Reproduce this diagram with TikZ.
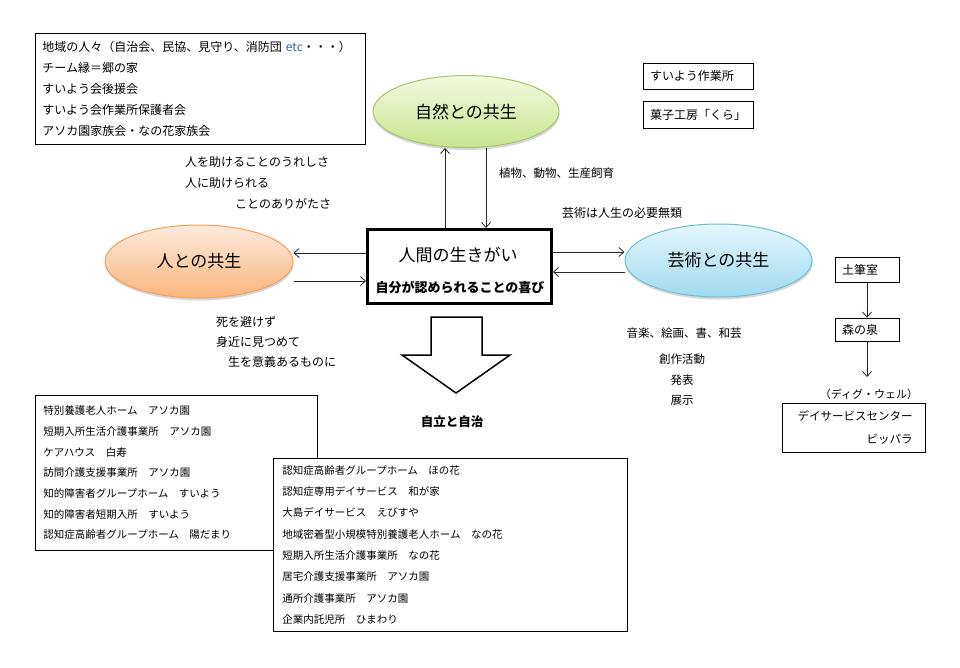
\documentclass[tikz,border=0pt]{standalone}
\usepackage{fontspec}
\setmainfont{Noto Sans CJK JP}
\usetikzlibrary{arrows.meta,shapes.geometric,shadows}

\definecolor{natTop}{HTML}{F3FADF}
\definecolor{natBot}{HTML}{C8E58E}
\definecolor{natLine}{HTML}{A6C46A}
\definecolor{perTop}{HTML}{FDEBDD}
\definecolor{perBot}{HTML}{F9B57C}
\definecolor{perLine}{HTML}{F2A05A}
\definecolor{artTop}{HTML}{E6F6FC}
\definecolor{artBot}{HTML}{9EDBF0}
\definecolor{artLine}{HTML}{6FBCD8}
\definecolor{etcblue}{HTML}{2F62B0}

\begin{document}
\begin{tikzpicture}[x=1pt,y=-1pt,
  listbox/.style={draw=black, line width=0.8pt, fill=white, align=left, anchor=north west},
  smallbox/.style={draw=black, line width=0.8pt, fill=white, align=left, font=\fontsize{12}{14}\selectfont},
  lbl/.style={inner sep=0pt},
  conn/.style={draw=black!85, line width=0.8pt, -{Straight Barb[length=5pt,width=9pt]}},
  bubble/.style={ellipse, line width=1pt, font=\fontsize{17}{20}\selectfont,
    drop shadow={shadow xshift=0.5pt, shadow yshift=-2.5pt, opacity=0.22, fill=black!70}},
  title/.style={inner sep=0pt, font=\fontsize{17}{20}\selectfont}
]
\fill[white] (0,0) rectangle (960,667);
\useasboundingbox (0,0) rectangle (960,667);

% community box
\node[listbox, font=\fontsize{12}{21.1}\selectfont, text width=316pt, inner xsep=7pt,
      minimum width=330pt, minimum height=111pt] (community) at (35,33)
  {地域の人々（自治会、民協、見守り、消防団 {\color{etcblue}etc}・・・）\\チーム縁＝郷の家\\すいよう会後援会\\すいよう会作業所保護者会\\アソカ園家族会・なの花家族会};

% ellipses
\node[bubble, draw=natLine, top color=natTop, bottom color=natBot,
      minimum width=186pt, minimum height=72pt] (nature) at (466,111.5) {自然との共生};
\node[bubble, draw=perLine, top color=perTop, bottom color=perBot,
      minimum width=188pt, minimum height=73pt] (person) at (199,261.5) {人との共生};
\node[bubble, draw=artLine, top color=artTop, bottom color=artBot,
      minimum width=187pt, minimum height=73pt] (art) at (718.5,260.5) {芸術との共生};

% center box
\node[draw=black, line width=3pt, fill=white, minimum width=184pt, minimum height=74pt] (center) at (459.5,266.5) {};
\node[title] (ctitle) at (458,255) {人間の生きがい};
\node[inner sep=0pt, font=\bfseries\fontsize{13}{15}\selectfont] (csub) at (460,287) {自分が認められることの喜び};

% connectors
\coordinate (vA) at (445,0);
\coordinate (vB) at (486,0);
\coordinate (hA) at (0,253);
\coordinate (hB) at (0,281);
\coordinate (hC) at (0,252);
\coordinate (hD) at (0,272);
\draw[conn] (center.north -| vA) -- (nature.south -| vA);
\draw[conn] (nature.south -| vB) -- (center.north -| vB);
\draw[conn] (center.west |- hA) -- (person.east |- hA);
\draw[conn] (person.east |- hB) -- (center.west |- hB);
\draw[conn] (center.east |- hC) -- (art.west |- hC);
\draw[conn] (art.west |- hD) -- (center.east |- hD);

% labels
\node[lbl, anchor=west, font=\fontsize{11.5}{13}\selectfont] (plants) at (499,173) {植物、動物、生産飼育};
\node[lbl, anchor=west, font=\fontsize{12}{14}\selectfont] (artnote) at (562,213) {芸術は人生の必要無類};
\node[lbl, anchor=west, font=\fontsize{12}{14}\selectfont] (helpA) at (185,162) {人を助けることのうれしさ};
\node[lbl, anchor=west, font=\fontsize{12}{14}\selectfont] (helpB) at (185,183) {人に助けられる};
\node[lbl, anchor=west, font=\fontsize{12}{14}\selectfont] (helpC) at (235,204) {ことのありがたさ};
\node[lbl, anchor=west, font=\fontsize{12}{14}\selectfont] (deathA) at (216,322) {死を避けず};
\node[lbl, anchor=west, font=\fontsize{12}{14}\selectfont] (deathB) at (216,342) {身近に見つめて};
\node[lbl, anchor=west, font=\fontsize{12}{14}\selectfont] (deathC) at (228,362) {生を意義あるものに};
\node[lbl, font=\fontsize{11.5}{13}\selectfont] (music) at (684,333) {音楽、絵画、書、和芸};
\node[lbl, font=\fontsize{11.5}{13}\selectfont] (create) at (682,359) {創作活動};
\node[lbl, font=\fontsize{11.5}{13}\selectfont] (present) at (682,380) {発表};
\node[lbl, font=\fontsize{11.5}{13}\selectfont] (exhibit) at (682,400) {展示};

% small boxes top right
\node[smallbox, text width=96pt, inner xsep=7pt, minimum height=26pt] (suiyou) at (698,76) {すいよう作業所};
\node[smallbox, text width=96pt, inner xsep=7pt, minimum height=27pt] (kura) at (698,114.5) {菓子工房「くら」};

% big arrow
\draw[line width=1.5pt, fill=white, line join=miter]
  (431,317) -- (482,317) -- (482,355) -- (510,355) -- (456,393) -- (402,355) -- (431,355) -- cycle;
\node[lbl, font=\bfseries\fontsize{12.5}{14}\selectfont] (jiritsu) at (452,422) {自立と自治};

% right flow
\node[smallbox, text width=50pt, inner xsep=7pt, minimum height=25pt] (tsukushi) at (867,270) {土筆室};
\node[smallbox, text width=50pt, inner xsep=7pt, minimum height=23pt] (izumi) at (867,329.5) {森の泉};
\coordinate (digtop) at (867,377);
\draw[conn] (tsukushi.south) -- (izumi.north);
\draw[conn] (izumi.south) -- (digtop);
\node[lbl, font=\fontsize{11}{13}\selectfont] (diglabel) at (869,394) {（ディグ・ウェル）};
\node[draw=black, line width=0.8pt, fill=white, align=right, text width=118pt, inner xsep=12.5pt,
      minimum height=49pt, font=\fontsize{11.5}{23}\selectfont] (daycare) at (853.5,427.5)
  {デイサービスセンター\\ビッパラ};

% facility boxes
\node[listbox, font=\fontsize{10.5}{20.7}\selectfont, text width=266pt, inner xsep=8pt,
      minimum width=282pt, minimum height=155pt] (facA) at (35,395)
  {特別養護老人ホーム　アソカ園\\短期入所生活介護事業所　アソカ園\\ケアハウス　白寿\\訪問介護支援事業所　アソカ園\\知的障害者グループホーム　すいよう\\知的障害者短期入所　すいよう\\認知症高齢者グループホーム　陽だまり};
\node[listbox, font=\fontsize{10.5}{21.3}\selectfont, text width=336pt, inner xsep=9pt,
      minimum width=354pt, minimum height=173pt] (facB) at (273,458)
  {認知症高齢者グループホーム　ほの花\\認知症専用デイサービス　和が家\\大島デイサービス　えびすや\\地域密着型小規模特別養護老人ホーム　なの花\\短期入所生活介護事業所　なの花\\居宅介護支援事業所　アソカ園\\通所介護事業所　アソカ園\\企業内託児所　ひまわり};
\end{tikzpicture}
\end{document}
